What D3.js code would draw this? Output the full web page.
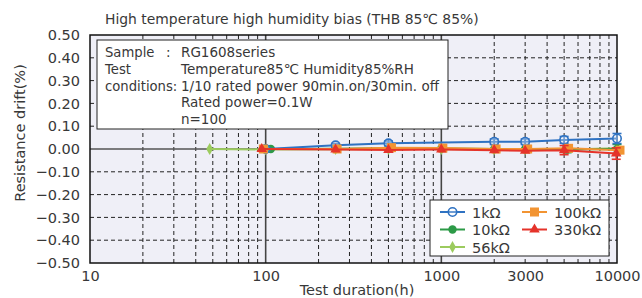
<!DOCTYPE html>
<html><head><meta charset="utf-8">
<script src="https://cdn.jsdelivr.net/npm/d3@7"></script>
<style>
body{margin:0;background:#fff;}
text{font-family:"DejaVu Sans","Liberation Sans",sans-serif;fill:#383838;}
</style></head>
<body><svg id="c" width="642" height="298"></svg>
<script>
// ---- data ----
const title = "High temperature high humidity bias (THB 85\u2103 85%)";
const xLabel = "Test duration(h)";
const yLabel = "Resistance drift(%)";
const xTickValues = [10, 100, 1000, 3000, 10000];
const xTickLabels = ["10", "100", "1000", "3000", "10000"];
const yTickValues = [0.5,0.4,0.3,0.2,0.1,0,-0.1,-0.2,-0.3,-0.4,-0.5];
const infoLines = [
  ["Sample", ":", "RG1608series"],
  ["Test", "", "Temperature85\u2103 Humidity85%RH"],
  ["conditions:", "", "1/10 rated power 90min.on/30min. off"],
  ["", "", "Rated power=0.1W"],
  ["", "", "n=100"]
];
const seriesNames = ["1k\u03a9", "10k\u03a9", "56k\u03a9", "100k\u03a9", "330k\u03a9"];
const seriesColors = ["#2f72c2", "#2c9a47", "#9ccb5e", "#f29432", "#e5332a"];
const seriesMarkers = ["circleOpen", "circle", "diamond", "square", "triangle"];

const t1k   = [100, 250, 500, 2000, 3000, 5000, 10000];
const v1k   = [0, 0.016, 0.025, 0.032, 0.032, 0.040, 0.046];
const e1k   = [0, 0.008, 0.010, 0.012, 0.012, 0.015, 0.022];

const t10k  = [107, 250, 500, 1000, 2000, 3000, 5200, 10000];
const v10k  = [0, 0.001, 0.003, 0.002, 0.000, 0.000, -0.002, 0.000];
const e10k  = [0, 0, 0, 0, 0, 0, 0.014, 0.020];

const t56k  = [48, 100, 250, 500, 1000, 2000, 3000, 5000, 10000];
const v56k  = [0, -0.002, -0.001, 0.000, 0.000, -0.002, -0.002, -0.002, 0.003];
const e56k  = [0, 0, 0, 0, 0, 0, 0, 0, 0];

const t100k = [97, 255, 520, 1020, 2050, 3100, 5300, 10400];
const v100k = [0, 0.000, 0.006, 0.004, 0.000, 0.000, 0.003, -0.005];
const e100k = [0, 0, 0, 0, 0, 0, 0, 0];

const t330k = [95, 250, 500, 1000, 2000, 3000, 5000, 9900];
const v330k = [0, -0.002, -0.004, -0.002, -0.005, -0.008, -0.005, -0.020];
const e330k = [0, 0, 0, 0, 0, 0, 0.020, 0.025];

// ---- layout ----
const svg = d3.select("#c");
const x = d3.scaleLog().domain([10, 10000]).range([90, 617]);
const y = d3.scaleLinear().domain([-0.5, 0.5]).range([263, 35]);

svg.append("rect").attr("x", 90).attr("y", 35).attr("width", 527).attr("height", 228)
  .attr("fill", "#efeff7");

// grid
const minorX = [];
[10, 100, 1000].forEach(d => { for (let k = 2; k <= 9; k++) minorX.push(d * k); });
svg.append("g").selectAll("line").data(minorX).join("line")
  .attr("x1", d => x(d)).attr("x2", d => x(d)).attr("y1", 35).attr("y2", 263)
  .attr("stroke", "#222").attr("stroke-width", 1).attr("stroke-dasharray", "4,3");
svg.append("g").selectAll("line").data(yTickValues.filter(d => d !== 0 && Math.abs(d) < 0.5)).join("line")
  .attr("x1", 90).attr("x2", 617).attr("y1", d => y(d)).attr("y2", d => y(d))
  .attr("stroke", "#222").attr("stroke-width", 1).attr("stroke-dasharray", "4,3");
svg.append("g").selectAll("line").data([100, 1000]).join("line")
  .attr("x1", d => x(d)).attr("x2", d => x(d)).attr("y1", 35).attr("y2", 263)
  .attr("stroke", "#444").attr("stroke-width", 1.6);
svg.append("line").attr("x1", 90).attr("x2", 617).attr("y1", y(0)).attr("y2", y(0))
  .attr("stroke", "#555").attr("stroke-width", 1.6);

svg.append("rect").attr("x", 90).attr("y", 35).attr("width", 527).attr("height", 228)
  .attr("fill", "none").attr("stroke", "#111").attr("stroke-width", 1.5);

// axes labels
const xAxis = d3.axisBottom(x).tickValues(xTickValues).tickFormat((d, i) => xTickLabels[i]).tickSize(0).tickPadding(8);
const gx = svg.append("g").attr("transform", "translate(0,263)").call(xAxis);
gx.select(".domain").remove();
gx.selectAll("text").style("font-size", "14.5px").attr("fill", "#383838").style("font-family", null);

const yAxis = d3.axisLeft(y).tickValues(yTickValues).tickSize(0).tickPadding(10)
  .tickFormat(d => (d < 0 ? "\u2212" : "") + Math.abs(d).toFixed(2));
const gy = svg.append("g").attr("transform", "translate(90,0)").call(yAxis);
gy.select(".domain").remove();
gy.selectAll("text").style("font-size", "14.5px").attr("fill", "#383838").style("font-family", null);

svg.append("text").attr("x", 105).attr("y", 24).style("font-size", "13.9px").text(title);
svg.append("text").attr("x", 357).attr("y", 295).attr("text-anchor", "middle").style("font-size", "14.5px").text(xLabel);
svg.append("text").attr("transform", "translate(25,133) rotate(-90)").attr("text-anchor", "middle")
  .style("font-size", "14.5px").text(yLabel);

// info box
svg.append("rect").attr("x", 97).attr("y", 40).attr("width", 351).attr("height", 89)
  .attr("fill", "#fff").attr("stroke", "#222").attr("stroke-width", 1);
const ig = svg.append("g");
infoLines.forEach((ln, i) => {
  const yy = 57 + i * 16.8;
  ig.append("text").attr("x", 105).attr("y", yy).style("font-size", "13.2px").text(ln[0]);
  ig.append("text").attr("x", 166).attr("y", yy).style("font-size", "13.5px").text(ln[1]);
  ig.append("text").attr("x", 181).attr("y", yy).style("font-size", "13.5px").text(ln[2]);
});

// series
const allSeries = [
  {t: t1k, v: v1k, e: e1k},
  {t: t10k, v: v10k, e: e10k},
  {t: t56k, v: v56k, e: e56k},
  {t: t100k, v: v100k, e: e100k},
  {t: t330k, v: v330k, e: e330k}
];
function marker(g, type, cx, cy, col) {
  if (type === "circleOpen") g.append("circle").attr("cx", cx).attr("cy", cy).attr("r", 4.2).attr("fill", "#fff").attr("fill-opacity", 0.3).attr("stroke", col).attr("stroke-width", 1.6);
  else if (type === "circle") g.append("circle").attr("cx", cx).attr("cy", cy).attr("r", 4.2).attr("fill", col);
  else if (type === "diamond") g.append("path").attr("d", d3.symbol(d3.symbolDiamond, 40)()).attr("transform", `translate(${cx},${cy})`).attr("fill", col);
  else if (type === "square") g.append("rect").attr("x", cx - 4.5).attr("y", cy - 4.5).attr("width", 9).attr("height", 9).attr("fill", col);
  else if (type === "triangle") g.append("path").attr("d", d3.symbol(d3.symbolTriangle, 48)()).attr("transform", `translate(${cx},${cy})`).attr("fill", col);
}
const drawOrder = [2, 1, 0, 3, 4];
drawOrder.forEach(si => {
  const s = allSeries[si], col = seriesColors[si];
  const g = svg.append("g");
  const pts = s.t.map((t, i) => [x(t), y(s.v[i]), y(s.v[i] + s.e[i]), y(s.v[i] - s.e[i])]);
  g.append("path").attr("d", d3.line()(pts.map(p => [p[0], p[1]]))).attr("fill", "none")
    .attr("stroke", col).attr("stroke-width", 2);
  pts.forEach((p, i) => {
    if (s.e[i] > 0) {
      g.append("line").attr("x1", p[0]).attr("x2", p[0]).attr("y1", p[2]).attr("y2", p[3]).attr("stroke", col).attr("stroke-width", 1.6);
      [p[2], p[3]].forEach(cy => g.append("line").attr("x1", p[0] - 4.5).attr("x2", p[0] + 4.5).attr("y1", cy).attr("y2", cy).attr("stroke", col).attr("stroke-width", 1.6));
    }
    marker(g, seriesMarkers[si], p[0], p[1], col);
  });
});

// legend
svg.append("rect").attr("x", 430).attr("y", 200).attr("width", 179).attr("height", 56)
  .attr("fill", "#fff").attr("stroke", "#222").attr("stroke-width", 1);
const legPos = [[440, 212], [440, 229.5], [440, 247], [522, 212], [522, 229.5]];
seriesNames.forEach((n, i) => {
  const [lx, ly] = legPos[i];
  const g = svg.append("g");
  g.append("line").attr("x1", lx).attr("x2", lx + 25).attr("y1", ly).attr("y2", ly).attr("stroke", seriesColors[i]).attr("stroke-width", 2);
  marker(g, seriesMarkers[i], lx + 12.5, ly, seriesColors[i]);
  g.append("text").attr("x", lx + 32).attr("y", ly + 5.5).style("font-size", "14.5px").text(n);
});
</script></body></html>
